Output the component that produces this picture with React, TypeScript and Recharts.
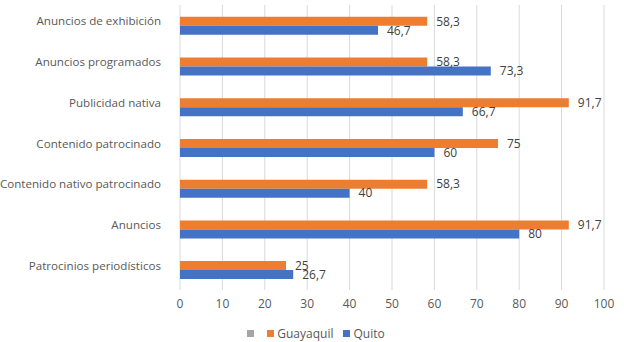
import { BarChart, Bar, XAxis, YAxis, CartesianGrid, LabelList } from "recharts";

const categories = [
  "Anuncios de exhibición",
  "Anuncios programados",
  "Publicidad nativa",
  "Contenido patrocinado",
  "Contenido nativo patrocinado",
  "Anuncios",
  "Patrocinios periodísticos",
];
const guayaquil = [58.3, 58.3, 91.7, 75, 58.3, 91.7, 25];
const quito = [46.7, 73.3, 66.7, 60, 40, 80, 26.7];
const xTicks = [0, 10, 20, 30, 40, 50, 60, 70, 80, 90, 100];

const data = categories.map((name, i) => ({
  name,
  guayaquil: guayaquil[i],
  quito: quito[i],
}));

const FONT = "'Open Sans', sans-serif";
const fmt = (v: any) => String(v).replace(".", ",");

const YTick = ({ x, y, payload }: any) => (
  <text x={x} y={y - 4} dy="0.35em" textAnchor="end" fill="#595959" fontSize={11.6} fontFamily={FONT}>
    {payload.value}
  </text>
);

const App = () => {
  return (
    <div style={{ position: "absolute", left: 0, top: 0, width: 624, height: 342, background: "#fff" }}>
      <BarChart
        width={624}
        height={342}
        data={data}
        layout="vertical"
        margin={{ top: 5, right: 20, bottom: 27, left: 0 }}
        barCategoryGap="29%"
        barGap={0}
      >
        <CartesianGrid horizontal={false} stroke="#d9d9d9" />
        <XAxis
          type="number"
          domain={[0, 100]}
          ticks={xTicks}
          axisLine={false}
          tickLine={false}
          tickSize={7}
          height={25}
          tick={{ fill: "#595959", fontSize: 12, fontFamily: FONT }}
        />
        <YAxis
          type="category"
          dataKey="name"
          width={180}
          axisLine={false}
          tickLine={false}
          tick={<YTick />}
          interval={0}
          tickMargin={13}
        />
        <Bar dataKey="guayaquil" fill="#ED7D31" isAnimationActive={false}>
          <LabelList dataKey="guayaquil" position="right" offset={9} formatter={fmt}
            fill="#404040" fontSize={12} fontFamily={FONT} />
        </Bar>
        <Bar dataKey="quito" fill="#4472C4" isAnimationActive={false}>
          <LabelList dataKey="quito" position="right" offset={9} formatter={fmt}
            fill="#404040" fontSize={12} fontFamily={FONT} />
        </Bar>
      </BarChart>
      <div
        style={{
          position: "absolute",
          top: 325,
          left: 0,
          width: 624,
          display: "flex",
          justifyContent: "center",
          alignItems: "center",
          gap: 10,
          fontFamily: FONT,
          fontSize: 12,
          color: "#595959",
        }}
      >
        <span style={{ display: "flex", alignItems: "center", marginLeft: 8, marginRight: 3 }}>
          <span style={{ width: 7, height: 7, background: "#A5A5A5", display: "inline-block" }} />
        </span>
        <span style={{ display: "flex", alignItems: "center", gap: 3 }}>
          <span style={{ width: 7, height: 7, background: "#ED7D31", display: "inline-block" }} />
          Guayaquil
        </span>
        <span style={{ display: "flex", alignItems: "center", gap: 3 }}>
          <span style={{ width: 7, height: 7, background: "#4472C4", display: "inline-block" }} />
          Quito
        </span>
      </div>
    </div>
  );
};

export default App;
